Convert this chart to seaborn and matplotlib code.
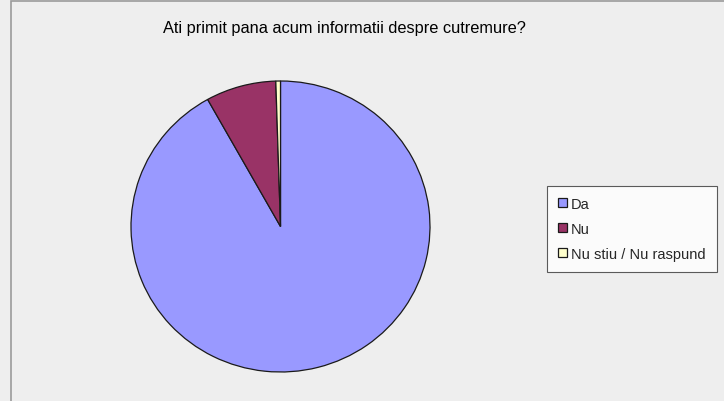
import matplotlib
matplotlib.use("Agg")
import matplotlib.pyplot as plt
from matplotlib.patches import Rectangle
import seaborn as sns

# ===============================
# Data
# ===============================
labels = ["Da", "Nu", "Nu stiu / Nu raspund"]
values = [91.9, 7.6, 0.5]
colors = ["#9999FF", "#993366", "#FFFFCC"]
title = "Ati primit pana acum informatii despre cutremure?"

sns.set_style("white")
plt.rcParams["font.family"] = ["Liberation Sans", "DejaVu Sans"]

fig = plt.figure(figsize=(7.24, 4.02), dpi=100)
fig.patch.set_facecolor("#EEEEEE")

# chart frame (left + top edges visible)
fig.patches.append(Rectangle((11 / 724, -0.05), 1.2, (402 - 2) / 402 + 0.05,
                             transform=fig.transFigure, fill=False,
                             edgecolor="#9A9A9A", linewidth=1.2))

# pie is slightly squashed vertically in the original
ax = fig.add_axes([131 / 724, 29 / 402, 299 / 724, 291 / 402])
ax.set_facecolor("#EEEEEE")
wedges, _ = ax.pie(values, colors=colors, startangle=90, counterclock=False,
                   wedgeprops=dict(edgecolor="#1A1A1A", linewidth=0.9))
ax.set_xlim(-1.0, 1.0)
ax.set_ylim(-1.0, 1.0)
ax.set_aspect("auto")
ax.axis("off")

fig.text(344 / 724, 1 - 29 / 402, title, ha="center", va="center",
         fontsize=11.8, color="black")

leg = fig.legend(wedges, labels, loc="upper left",
                 bbox_to_anchor=(547 / 724, 1 - 187 / 402),
                 frameon=True, fancybox=False, fontsize=10.5,
                 handlelength=0.6, handleheight=0.6, handletextpad=0.3,
                 labelspacing=0.75, borderpad=0.75, borderaxespad=0)
leg.get_frame().set_edgecolor("#333333")
leg.get_frame().set_linewidth(0.8)
leg.get_frame().set_facecolor("white")

fig.savefig("out.png", dpi=100, facecolor=fig.get_facecolor())
